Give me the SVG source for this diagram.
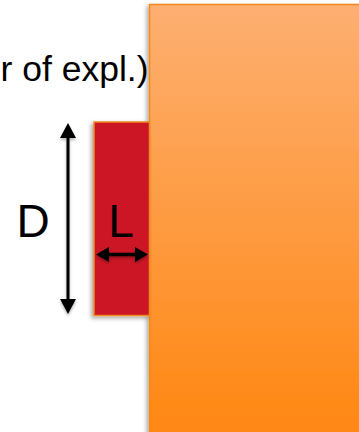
<svg xmlns="http://www.w3.org/2000/svg" width="359" height="432" viewBox="0 0 359 432">
  <style>
    .lbl { font-family: "Liberation Sans", Arial, sans-serif; fill: #000000; }
    .box { stroke: #F08A1E; stroke-width: 1.5; }
    .arrow { stroke: #000000; fill: none; }
  </style>
  <defs>
    <linearGradient id="orangeGrad" x1="0" y1="0" x2="0" y2="1">
      <stop offset="0" stop-color="#FDAF71"/>
      <stop offset="1" stop-color="#FF860F"/>
    </linearGradient>
    <filter id="shadow" x="-20%" y="-20%" width="140%" height="140%">
      <feDropShadow dx="-2" dy="2" stdDeviation="2" flood-color="#000000" flood-opacity="0.35"/>
    </filter>
    <filter id="ashadow" x="-30%" y="-30%" width="160%" height="160%">
      <feDropShadow dx="0" dy="2" stdDeviation="1.5" flood-color="#000000" flood-opacity="0.3"/>
    </filter>
    <marker id="headV" markerUnits="userSpaceOnUse" markerWidth="16" markerHeight="16" viewBox="0 -8 16 16" refX="1" refY="0" orient="auto-start-reverse">
      <path d="M0,-8 L15,0 L0,8 z" fill="#000000"/>
    </marker>
    <marker id="headH" markerUnits="userSpaceOnUse" markerWidth="14" markerHeight="16" viewBox="0 -8 14 16" refX="1" refY="0" orient="auto-start-reverse">
      <path d="M0,-7.5 L13,0 L0,7.5 z" fill="#000000"/>
    </marker>
  </defs>

  <g id="caption">
    <text class="lbl" x="148.5" y="81" font-size="35.5" text-anchor="end">r of expl.)</text>
  </g>

  <g id="block">
    <rect class="box" x="149.5" y="4.5" width="220" height="440" fill="url(#orangeGrad)" filter="url(#shadow)"/>
  </g>

  <g id="sample">
    <rect class="box" x="94" y="122" width="55.5" height="193.5" fill="#CC1428" filter="url(#shadow)"/>
    <text class="lbl" x="108.3" y="237" font-size="46">L</text>
  </g>

  <g id="labelD">
    <text class="lbl" x="16.5" y="237" font-size="46">D</text>
  </g>

  <g id="connectors" filter="url(#ashadow)">
    <line class="arrow" x1="68" y1="137" x2="68" y2="300" stroke-width="3" marker-start="url(#headV)" marker-end="url(#headV)"/>
    <line class="arrow" x1="108" y1="254.5" x2="136" y2="254.5" stroke-width="3.5" marker-start="url(#headH)" marker-end="url(#headH)"/>
  </g>
</svg>
